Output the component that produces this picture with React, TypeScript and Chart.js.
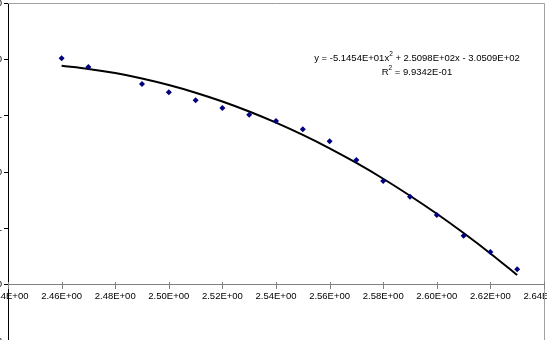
import React, { useEffect, useRef } from "react";
import { Chart, registerables } from "chart.js";

Chart.register(...registerables);

// Observed data points (x, y)
const xValues = [2.46, 2.47, 2.49, 2.5, 2.51, 2.52, 2.53, 2.54, 2.55, 2.56, 2.57, 2.58, 2.59, 2.6, 2.61, 2.62, 2.63];
const yValues = [1.009, 0.932, 0.781, 0.707, 0.636, 0.568, 0.509, 0.453, 0.379, 0.273, 0.107, -0.08, -0.219, -0.382, -0.565, -0.71, -0.864];

// Polynomial trendline
const trendX = [2.46, 2.47, 2.48, 2.49, 2.5, 2.51, 2.52, 2.53, 2.54, 2.55, 2.56, 2.57, 2.58, 2.59, 2.6, 2.61, 2.62, 2.63];
const trendY = [0.942, 0.915, 0.878, 0.83, 0.772, 0.704, 0.626, 0.537, 0.438, 0.329, 0.21, 0.08, -0.06, -0.211, -0.371, -0.542, -0.723, -0.915];

// Axis ticks
const xTicks = [2.44, 2.46, 2.48, 2.5, 2.52, 2.54, 2.56, 2.58, 2.6, 2.62, 2.64];
const yTicks = [-1.5, -1, -0.5, 0, 0.5, 1, 1.5];
const xAxisCross = -1;

// Trendline equation text
const eqPart1 = "y = -5.1454E+01x";
const eqSup = "2";
const eqPart2 = " + 2.5098E+02x - 3.0509E+02";
const r2Part1 = "R";
const r2Sup = "2";
const r2Part2 = " = 9.9342E-01";

const FONT = '"Liberation Sans", Arial, sans-serif';

function sci(v: number): string {
  if (Math.abs(v) < 1e-9) v = 0;
  const [m, e] = v.toExponential(2).split("e");
  const n = parseInt(e, 10);
  const sign = n < 0 ? "-" : "+";
  return `${m}E${sign}${String(Math.abs(n)).padStart(2, "0")}`;
}

const framePlugin = {
  id: "frameAndEquation",
  beforeDatasetsDraw(chart: any) {
    const { ctx, chartArea: a, scales } = chart;
    ctx.save();
    ctx.strokeStyle = "#a0a0a0";
    ctx.lineWidth = 1;
    ctx.beginPath();
    ctx.moveTo(a.left, Math.round(a.top) + 0.5);
    ctx.lineTo(Math.round(a.right) + 0.5, Math.round(a.top) + 0.5);
    ctx.lineTo(Math.round(a.right) + 0.5, a.bottom);
    ctx.stroke();
    // crossing ticks on the x axis
    const yPix = Math.round(scales.y.getPixelForValue(xAxisCross));
    ctx.strokeStyle = "#808080";
    ctx.beginPath();
    for (const t of scales.x.ticks) {
      const xp = Math.round(scales.x.getPixelForValue(t.value)) + 0.5;
      ctx.moveTo(xp, yPix - 3);
      ctx.lineTo(xp, yPix + 4);
    }
    ctx.stroke();
    ctx.restore();
  },
  afterDraw(chart: any) {
    const { ctx, chartArea: a } = chart;
    const cx = a.left + (a.right - a.left) * 0.763;
    const drawLine = (p1: string, sup: string, p2: string, y: number) => {
      ctx.save();
      ctx.fillStyle = "#000";
      ctx.textBaseline = "middle";
      ctx.textAlign = "left";
      const main = `9.5px ${FONT}`;
      const small = `6.5px ${FONT}`;
      ctx.font = main;
      const w1 = ctx.measureText(p1).width;
      const w3 = ctx.measureText(p2).width;
      ctx.font = small;
      const w2 = ctx.measureText(sup).width;
      const total = w1 + w2 + w3;
      let x = cx - total / 2;
      ctx.font = main;
      ctx.fillText(p1, x, y);
      x += w1;
      ctx.font = small;
      ctx.fillText(sup, x, y - 4);
      x += w2;
      ctx.font = main;
      ctx.fillText(p2, x, y);
      ctx.restore();
    };
    const h = a.bottom - a.top;
    drawLine(eqPart1, eqSup, eqPart2, a.top + h * 0.163);
    drawLine(r2Part1, r2Sup, r2Part2, a.top + h * 0.204);
  },
};

export default function App() {
  const canvasRef = useRef<HTMLCanvasElement | null>(null);

  useEffect(() => {
    const canvas = canvasRef.current;
    if (!canvas) return;
    const chart = new Chart(canvas, {
      type: "scatter",
      data: {
        datasets: [
          {
            label: "data",
            data: xValues.map((x, i) => ({ x, y: yValues[i] })),
            pointStyle: "rectRot",
            pointRadius: 3,
            pointBackgroundColor: "#000080",
            pointBorderColor: "#000080",
            borderWidth: 0,
            showLine: false,
          },
          {
            label: "trend",
            data: trendX.map((x, i) => ({ x, y: trendY[i] })),
            showLine: true,
            borderColor: "#000000",
            borderWidth: 2,
            pointRadius: 0,
            tension: 0.4,
            cubicInterpolationMode: "monotone",
          },
        ],
      },
      options: {
        responsive: false,
        animation: false,
        devicePixelRatio: 1,
        layout: { padding: { left: 0, top: 23, right: 56, bottom: 29 } },
        plugins: { legend: { display: false }, tooltip: { enabled: false } },
        scales: {
          x: {
            type: "linear",
            position: { y: xAxisCross } as any,
            min: 2.44,
            max: 2.64,
            afterBuildTicks: (s: any) => {
              s.ticks = xTicks.map((v) => ({ value: v }));
            },
            afterFit: (s: any) => {
              s.height = 0;
            },
            ticks: {
              autoSkip: false,
              maxRotation: 0,
              minRotation: 0,
              padding: 6,
              color: "#000",
              font: { family: FONT, size: 9.5 },
              callback: (v: any) => sci(Number(v)),
            },
            grid: { display: true, drawOnChartArea: false, drawTicks: false, color: "#808080" },
            border: { display: true, color: "#808080", width: 1 },
          },
          y: {
            type: "linear",
            position: "left",
            min: -1.5,
            max: 1.5,
            afterBuildTicks: (s: any) => {
              s.ticks = yTicks.map((v) => ({ value: v }));
            },
            afterFit: (s: any) => {
              s.width = 88;
            },
            ticks: {
              padding: 2,
              color: "#000",
              font: { family: FONT, size: 9.5 },
              callback: (v: any) => sci(Number(v)),
            },
            grid: { display: true, drawOnChartArea: false, drawTicks: true, tickLength: 4, color: "#000" },
            border: { display: true, color: "#000", width: 1 },
          },
        },
      },
      plugins: [framePlugin],
    } as any);
    return () => chart.destroy();
  }, []);

  return (
    <div
      style={{
        position: "fixed",
        left: 0,
        top: 0,
        width: 547,
        height: 340,
        overflow: "hidden",
        background: "#fff",
      }}
    >
      <canvas
        ref={canvasRef}
        width={680}
        height={390}
        style={{ position: "absolute", left: -80, top: -20, width: 680, height: 390 }}
      />
    </div>
  );
}
